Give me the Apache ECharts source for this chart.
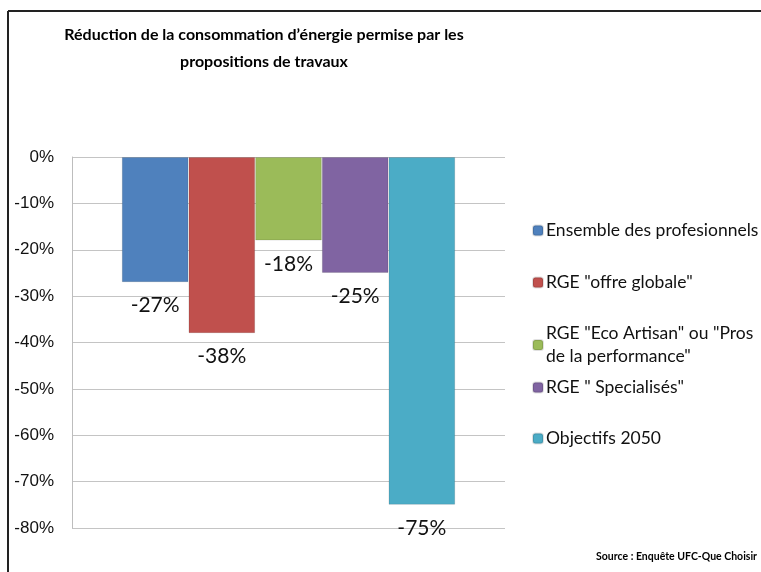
<!DOCTYPE html>
<html>
<head>
<meta charset="utf-8">
<script src="https://cdn.jsdelivr.net/npm/echarts@6/dist/echarts.min.js"></script>
<style>
  html, body { margin: 0; padding: 0; background: #fff; }
  #chart { width: 761px; height: 572px; }
</style>
</head>
<body>
<div id="chart"></div>
<script>
var seriesNames = [
  "Ensemble des profesionnels",
  'RGE "offre globale"',
  'RGE "Eco Artisan" ou "Pros\nde la performance"',
  'RGE " Specialisés"',
  "Objectifs 2050",
];
var values = [-27, -38, -18, -25, -75];
var colors = ["#4F81BD", "#C0504D", "#9BBB59", "#8064A2", "#4BACC6"];
// top of each legend entry (two-line entry gets its own line height)
var legendTops = [219, 271, 322, 376, 427];

var chartDom = document.getElementById("chart");
var myChart = echarts.init(chartDom);

var series = [];
var legends = [];
for (var i = 0; i < values.length; i++) {
  series.push({
    name: seriesNames[i],
    type: "bar",
    data: [values[i]],
    barGap: "0%",
    barCategoryGap: "23%",
    itemStyle: {
      color: colors[i],
      borderColor: "rgba(0,0,0,0.12)",
      borderWidth: 1,
    },
    label: {
      show: true,
      position: "bottom",
      distance: 13,
      formatter: "{c}%",
      fontFamily: "Lato",
      fontSize: 21,
      color: "#111",
    },
  });
  legends.push({
    data: [seriesNames[i]],
    orient: "vertical",
    left: 532,
    top: legendTops[i],
    padding: 0,
    itemWidth: 10,
    itemHeight: 10,
    itemGap: 0,
    selectedMode: false,
    textStyle: {
      fontFamily: "Lato",
      fontSize: 17.5,
      color: "#111",
      lineHeight: 23,
      padding: [0, 0, 0, -2],
    },
  });
}

var option = {
  animation: false,
  title: {
    text: "Réduction de la consommation d’énergie permise par les\npropositions de travaux",
    left: 259,
    textAlign: "center",
    top: 16,
    textStyle: {
      fontFamily: "Lato",
      fontWeight: "bold",
      fontSize: 16,
      lineHeight: 27,
      color: "#000",
    },
  },
  legend: legends,
  grid: {
    left: 72,
    right: 256,
    top: 157,
    bottom: 44,
  },
  xAxis: {
    type: "category",
    data: [""],
    axisLine: { show: false },
    axisTick: { show: false },
    axisLabel: { show: false },
  },
  yAxis: {
    type: "value",
    min: -80,
    max: 0,
    interval: 10,
    axisLine: { show: true, lineStyle: { color: "#bdbdbd" } },
    axisTick: { show: false },
    axisLabel: {
      formatter: "{value}%",
      margin: 18,
      fontFamily: "Liberation Sans",
      fontSize: 17,
      color: "#111",
    },
    splitLine: { lineStyle: { color: "#c4c4c4" } },
  },
  series: series,
  graphic: [
    {
      type: "line",
      shape: { x1: 8, y1: 11, x2: 761, y2: 11 },
      style: { stroke: "#222", lineWidth: 2 },
    },
    {
      type: "line",
      shape: { x1: 8, y1: 11, x2: 8, y2: 572 },
      style: { stroke: "#222", lineWidth: 2 },
    },
    {
      type: "text",
      right: 4,
      top: 551,
      style: {
        text: "Source : Enquête UFC-Que Choisir",
        fontFamily: "Lato",
        fontWeight: "bold",
        fontSize: 10.5,
        fill: "#000",
      },
    },
  ],
};

option && myChart.setOption(option);
</script>
</body>
</html>
